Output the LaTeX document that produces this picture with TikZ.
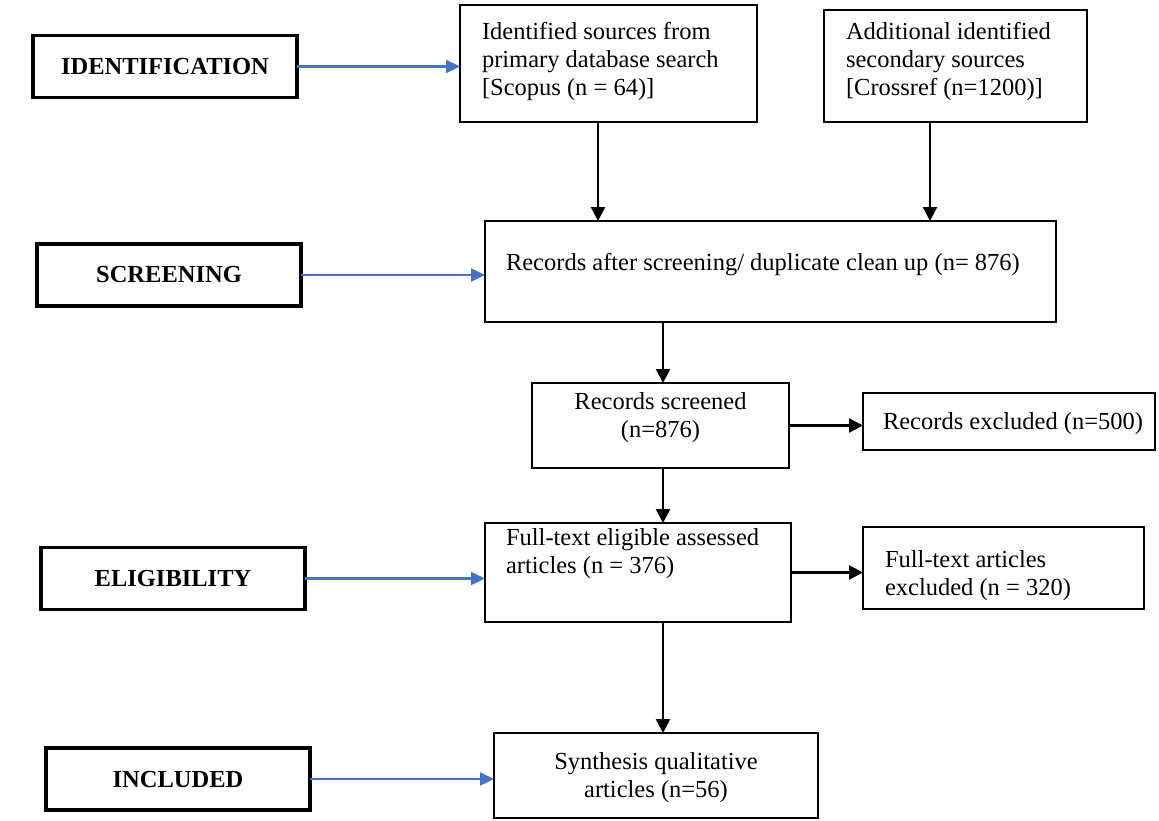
\documentclass[tikz,border=0pt]{standalone}
\usepackage{fontspec}
\setmainfont{Liberation Serif}
\usetikzlibrary{arrows.meta}
\definecolor{arrblue}{RGB}{68,114,196}
\newcommand{\lbx}[5]{\parbox[c][#2pt][t]{#1pt}{\vspace*{#4pt}\hspace*{#3pt}\begin{tabular}[t]{@{}l@{}}#5\end{tabular}}}
\newcommand{\cbx}[4]{\parbox[c][#2pt][t]{#1pt}{\vspace*{#3pt}\centering\begin{tabular}[t]{@{}c@{}}#4\end{tabular}}}
\begin{document}
\begin{tikzpicture}[x=1pt,y=-1pt,
  every node/.style={font=\fontsize{24.5}{28}\selectfont},
  content/.style={draw, line width=1.8pt, inner sep=0pt, outer sep=0pt},
  stage/.style={draw, line width=3.2pt, inner sep=0pt, outer sep=0pt, minimum width=264pt, minimum height=62pt, font=\fontsize{24.5}{28}\selectfont\bfseries},
  blk/.style={line width=2.4pt, -{Triangle[length=14pt,width=14pt]}},
  blu/.style={line width=2.2pt, arrblue, -{Triangle[length=14pt,width=13pt]}}]
\useasboundingbox (0,0) rectangle (1159,820);
% stage labels
\node[stage] (ident) at (165,66.5) {IDENTIFICATION};
\node[stage] (scr) at (169,275) {SCREENING};
\node[stage] (elig) at (173,578.5) {ELIGIBILITY};
\node[stage] (incl) at (178,779) {INCLUDED};
% content boxes
\node[content] (idf) at (608.5,63.5) {\lbx{297}{117}{22}{15}{Identified sources from\\primary database search\\{[Scopus (n = 64)]}}};
\node[content] (add) at (955.5,66) {\lbx{263}{112}{22}{10}{Additional identified\\secondary sources\\{[Crossref (n=1200)]}}};
\node[content] (rec) at (770.5,271.5) {\lbx{571}{101}{21}{30}{Records after screening/ duplicate clean up (n= 876)}};
\node[content] (rs) at (660.5,425.5) {\cbx{257}{85}{7}{Records screened\\(n=876)}};
\node[content] (rx) at (1009,421.5) {\lbx{292}{57}{20}{17}{Records excluded (n=500)}};
\node[content] (ft) at (638,572.5) {\lbx{306}{99}{21}{3}{Full-text eligible assessed\\articles (n = 376)}};
\node[content] (fx) at (1003.5,568) {\lbx{281}{82}{22}{21}{Full-text articles\\excluded (n = 320)}};
\node[content] (syn) at (656,775.5) {\cbx{324}{85}{17}{Synthesis qualitative\\articles (n=56)}};
% connector columns
\coordinate (c1) at (598,0);
\coordinate (c2) at (930,0);
\coordinate (c3) at (663,0);
% blue arrows
\draw[blu] (ident.east) -- (ident.east -| idf.west);
\draw[blu] (scr.east) -- (scr.east -| rec.west);
\draw[blu] (elig.east) -- (elig.east -| ft.west);
\draw[blu] (incl.east) -- (incl.east -| syn.west);
% black arrows
\draw[blk] (idf.south -| c1) -- (rec.north -| c1);
\draw[blk] (add.south -| c2) -- (rec.north -| c2);
\draw[blk] (rec.south -| c3) -- (rs.north -| c3);
\draw[blk] (rs.east) -- (rs.east -| rx.west);
\draw[blk] (rs.south -| c3) -- (ft.north -| c3);
\draw[blk] (ft.east) -- (ft.east -| fx.west);
\draw[blk] (ft.south -| c3) -- (syn.north -| c3);
\end{tikzpicture}
\end{document}
